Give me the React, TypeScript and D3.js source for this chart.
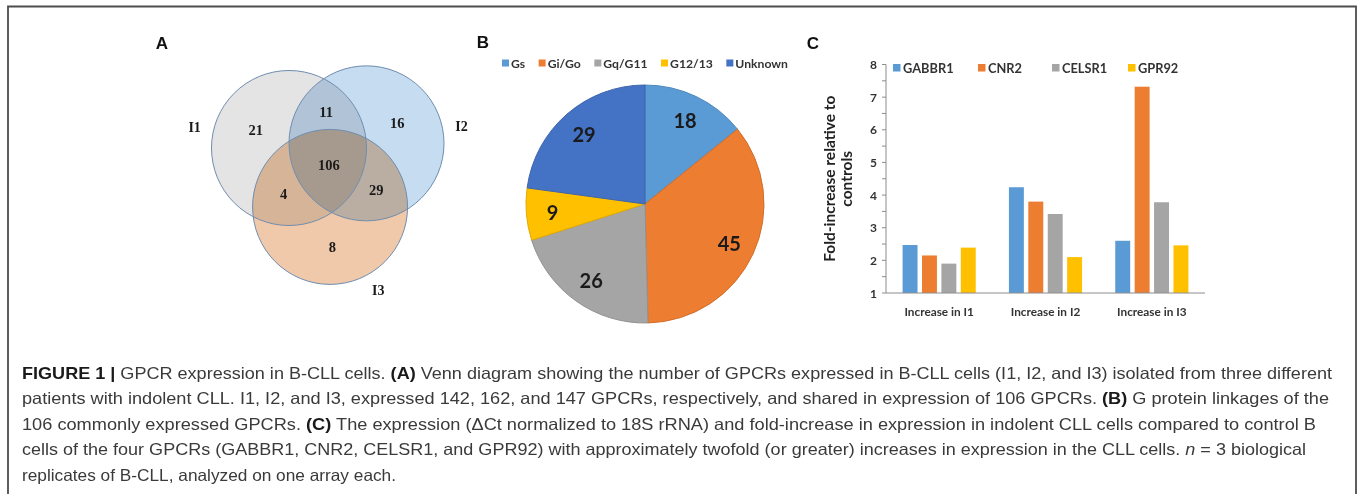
import React, { useMemo } from 'react';
import * as d3 from 'd3';

const WIDTH = 1357;
const HEIGHT = 494;

// ---- panel A: Venn counts ----
const vennSets = ['I1', 'I2', 'I3'];
// region codes: which sets a region belongs to (I1 I2 I3)
const vennRegions = ['100', '010', '001', '110', '101', '011', '111'];
const vennCounts = [21, 16, 8, 11, 4, 29, 106];

// ---- panel B: G protein linkages ----
const pieLabels = ['Gs', 'Gi/Go', 'Gq/G11', 'G12/13', 'Unknown'];
const pieValues = [18, 45, 26, 9, 29];

// ---- panel C: fold increase ----
const barCategories = ['Increase in I1', 'Increase in I2', 'Increase in I3'];
const barSeries = ['GABBR1', 'CNR2', 'CELSR1', 'GPR92'];
const gabbr1 = [2.47, 4.24, 2.6];
const cnr2 = [2.15, 3.8, 7.32];
const celsr1 = [1.9, 3.42, 3.78];
const gpr92 = [2.39, 2.1, 2.46];
const yTickValues = [1, 2, 3, 4, 5, 6, 7, 8];

const OFFICE = ['#5b9bd5', '#ed7d31', '#a5a5a5', '#ffc000', '#4472c4'];
const VENN_FILL = ['#e4e4e4', '#c6dcf1', '#f0c9aa'];

// circle layout in radius units
const VENN_LAYOUT = [
  { cx: 0, cy: 0, labelAngle: 192 },
  { cx: 1.0, cy: -0.06, labelAngle: -10 },
  { cx: 0.53, cy: 0.76, labelAngle: 60 },
];

const CHART_FONT = 'Lato, "Open Sans", sans-serif';

const captionLines: { text: string; b?: boolean; i?: boolean }[][] = [
  [
    { text: 'FIGURE 1 | ', b: true },
    { text: 'GPCR expression in B-CLL cells. ' },
    { text: '(A)', b: true },
    { text: ' Venn diagram showing the number of GPCRs expressed in B-CLL cells (I1, I2, and I3) isolated from three different' },
  ],
  [
    { text: 'patients with indolent CLL. I1, I2, and I3, expressed 142, 162, and 147 GPCRs, respectively, and shared in expression of 106 GPCRs. ' },
    { text: '(B)', b: true },
    { text: ' G protein linkages of the' },
  ],
  [
    { text: '106 commonly expressed GPCRs. ' },
    { text: '(C)', b: true },
    { text: ' The expression (\u0394Ct normalized to 18S rRNA) and fold-increase in expression in indolent CLL cells compared to control B' },
  ],
  [
    { text: 'cells of the four GPCRs (GABBR1, CNR2, CELSR1, and GPR92) with approximately twofold (or greater) increases in expression in the CLL cells. ' },
    { text: 'n', i: true },
    { text: ' = 3 biological' },
  ],
  [{ text: 'replicates of B-CLL, analyzed on one array each.' }],
];
const captionWidths = [1310, 1307, 1294, 1284, 374];

let measureCtx: CanvasRenderingContext2D | null = null;
const textWidth = (s: string, font: string) => {
  if (!measureCtx) measureCtx = document.createElement('canvas').getContext('2d');
  if (!measureCtx) return s.length * 6;
  measureCtx.font = font;
  return measureCtx.measureText(s).width;
};

const Venn = () => {
  const r = 77.5;
  const sx = d3.scaleLinear().domain([0, 1]).range([289, 289 + r]);
  const sy = d3.scaleLinear().domain([0, 1]).range([148, 148 + r]);
  const circles = VENN_LAYOUT.map((c) => ({ x: sx(c.cx), y: sy(c.cy), r, a: c.labelAngle }));

  const centroids = useMemo(() => {
    const acc = vennRegions.map(() => ({ x: 0, y: 0, n: 0 }));
    for (let x = 200; x < 460; x += 1) {
      for (let y = 60; y < 290; y += 1) {
        const code = circles
          .map((c) => ((x - c.x) ** 2 + (y - c.y) ** 2 <= c.r * c.r ? '1' : '0'))
          .join('');
        const k = vennRegions.indexOf(code);
        if (k >= 0) {
          acc[k].x += x;
          acc[k].y += y;
          acc[k].n += 1;
        }
      }
    }
    return acc.map((a) => [a.x / a.n, a.y / a.n]);
  }, []);

  return (
    <g>
      <g style={{ isolation: 'isolate' }}>
        {circles.map((c, i) => (
          <circle
            key={i}
            cx={c.x}
            cy={c.y}
            r={c.r}
            fill={VENN_FILL[i]}
            style={{ mixBlendMode: 'multiply' }}
          />
        ))}
      </g>
      {circles.map((c, i) => (
        <circle key={i} cx={c.x} cy={c.y} r={c.r} fill="none" stroke="#6f8db0" strokeWidth={1} />
      ))}
      {circles.map((c, i) => {
        const rad = (c.a * Math.PI) / 180;
        const d = c.r + 19;
        return (
          <text
            key={i}
            x={c.x + d * Math.cos(rad)}
            y={c.y + d * Math.sin(rad)}
            textAnchor="middle"
            dominantBaseline="central"
            fontFamily='"Liberation Serif", serif'
            fontWeight="bold"
            fontSize={14}
            fill="#1a1a1a"
          >
            {vennSets[i]}
          </text>
        );
      })}
      {vennCounts.map((v, i) => (
        <text
          key={i}
          x={centroids[i][0]}
          y={centroids[i][1]}
          textAnchor="middle"
          dominantBaseline="central"
          fontFamily='"Liberation Serif", serif'
          fontWeight="bold"
          fontSize={14.5}
          fill="#1a1a1a"
        >
          {v}
        </text>
      ))}
    </g>
  );
};

const Pie = () => {
  const cx = 645;
  const cy = 204;
  const r = 119;
  const arcs = d3.pie<number>().sort(null)(pieValues);
  const arc = d3.arc<d3.PieArcDatum<number>>().innerRadius(0).outerRadius(r);
  const labelArc = d3.arc<d3.PieArcDatum<number>>().innerRadius(r * 0.78).outerRadius(r * 0.78);
  const legendFontSize = 12.2;
  const font = `bold ${legendFontSize}px Lato`;
  const widths = pieLabels.map((l) => textWidth(l, font));
  const total = d3.sum(widths) + pieLabels.length * 9;
  const gap = (788 - 502 - total) / (pieLabels.length - 1);
  const starts = pieLabels.map((_, i) => 502 + d3.sum(widths.slice(0, i)) + i * (9 + gap));

  return (
    <g>
      <g fontFamily={CHART_FONT} fontWeight="bold" fontSize={legendFontSize} fill="#333">
        {pieLabels.map((l, i) => (
          <g key={l}>
            <rect x={starts[i]} y={59.5} width={7} height={7} fill={OFFICE[i]} />
            <text x={starts[i] + 9} y={63} dominantBaseline="central">
              {l}
            </text>
          </g>
        ))}
      </g>
      <g transform={`translate(${cx},${cy})`}>
        {arcs.map((a, i) => (
          <path
            key={i}
            d={arc(a) as string}
            fill={OFFICE[i]}
            stroke={d3.color(OFFICE[i])!.darker(0.35).toString()}
            strokeWidth={1}
          />
        ))}
        {arcs.map((a, i) => {
          const [lx, ly] = labelArc.centroid(a);
          return (
            <text
              key={i}
              x={lx}
              y={ly}
              textAnchor="middle"
              dominantBaseline="central"
              fontFamily={CHART_FONT}
              fontWeight="bold"
              fontSize={20}
              fill="#1a1a1a"
            >
              {a.data}
            </text>
          );
        })}
      </g>
    </g>
  );
};

const Bars = () => {
  const x0 = d3
    .scaleBand()
    .domain(barCategories)
    .range([886, 1205])
    .paddingInner(0.27)
    .paddingOuter(0.135);
  const x1 = d3
    .scaleBand()
    .domain(barSeries)
    .range([0, x0.bandwidth()])
    .paddingInner(0.23)
    .paddingOuter(0.115);
  const y = d3.scaleLinear().domain([1, 8]).range([293, 64.5]);
  const values = [gabbr1, cnr2, celsr1, gpr92];
  const minor = y.ticks(14);
  const legendX = [893, 978, 1052, 1128];

  return (
    <g fontFamily={CHART_FONT} fill="#333">
      {barCategories.map((c, ci) => (
        <g key={c} transform={`translate(${x0(c)},0)`}>
          {barSeries.map((s, si) => (
            <rect
              key={s}
              x={x1(s)}
              y={y(values[si][ci])}
              width={x1.bandwidth()}
              height={y(1) - y(values[si][ci])}
              fill={OFFICE[si]}
            />
          ))}
        </g>
      ))}
      <line x1={886} x2={886} y1={y(8)} y2={y(1)} stroke="#8c8c8c" strokeWidth={1} />
      <line x1={886} x2={1205} y1={y(1)} y2={y(1)} stroke="#8c8c8c" strokeWidth={1} />
      {minor.map((t) => (
        <line key={t} x1={882} x2={886} y1={y(t)} y2={y(t)} stroke="#8c8c8c" strokeWidth={1} />
      ))}
      {yTickValues.map((t) => (
        <text
          key={t}
          x={877}
          y={y(t)}
          textAnchor="end"
          dominantBaseline="central"
          fontWeight="bold"
          fontSize={12}
        >
          {t}
        </text>
      ))}
      {barCategories.map((c) => (
        <text
          key={c}
          x={(x0(c) as number) + x0.bandwidth() / 2}
          y={311}
          textAnchor="middle"
          dominantBaseline="central"
          fontWeight="bold"
          fontSize={11.8}
        >
          {c}
        </text>
      ))}
      <text
        transform={`translate(829,${(y(1) + y(8)) / 2}) rotate(-90)`}
        textAnchor="middle"
        dominantBaseline="central"
        fontWeight="bold"
        fontSize={15.5}
        fill="#222"
      >
        Fold-increase relative to
      </text>
      <text
        transform={`translate(846,${(y(1) + y(8)) / 2}) rotate(-90)`}
        textAnchor="middle"
        dominantBaseline="central"
        fontWeight="bold"
        fontSize={15.5}
        fill="#222"
      >
        controls
      </text>
      {barSeries.map((s, i) => (
        <g key={s} fontWeight="bold" fontSize={12.8}>
          <rect x={legendX[i]} y={64} width={7.5} height={7.5} fill={OFFICE[i]} />
          <text x={legendX[i] + 10} y={68} dominantBaseline="central">
            {s}
          </text>
        </g>
      ))}
    </g>
  );
};

const App = () => {
  const lineY = d3.scaleLinear().domain([0, 1]).range([378.5, 404]);
  return (
    <svg
      width={WIDTH}
      height={HEIGHT}
      viewBox={`0 0 ${WIDTH} ${HEIGHT}`}
      style={{ position: 'absolute', left: 0, top: 0, background: '#fff' }}
    >
      <rect x={0} y={0} width={WIDTH} height={HEIGHT} fill="#fff" />
      <path d={`M8,${HEIGHT} L8,6.5 L1356,6.5 L1356,${HEIGHT}`} fill="none" stroke="#4d4d4d" strokeWidth={1.8} />

      <g fontFamily='"Liberation Sans", Arial, sans-serif' fontWeight="bold" fontSize={17} fill="#111">
        <text x={162} y={43} textAnchor="middle" dominantBaseline="central">A</text>
        <text x={483} y={42} textAnchor="middle" dominantBaseline="central">B</text>
        <text x={813} y={43} textAnchor="middle" dominantBaseline="central">C</text>
      </g>

      <Venn />
      <Pie />
      <Bars />

      <g fontFamily='"Liberation Sans", Arial, sans-serif' fontSize={16.5} fill="#3a3a3a">
        {captionLines.map((line, li) => (
          <text
            key={li}
            x={22}
            y={lineY(li)}
            textLength={captionWidths[li]}
            lengthAdjust="spacingAndGlyphs"
          >
            {line.map((seg, si) => (
              <tspan
                key={si}
                fontWeight={seg.b ? 'bold' : 'normal'}
                fontStyle={seg.i ? 'italic' : 'normal'}
                fill={seg.b ? '#1a1a1a' : undefined}
              >
                {seg.text}
              </tspan>
            ))}
          </text>
        ))}
      </g>
    </svg>
  );
};

export default App;
